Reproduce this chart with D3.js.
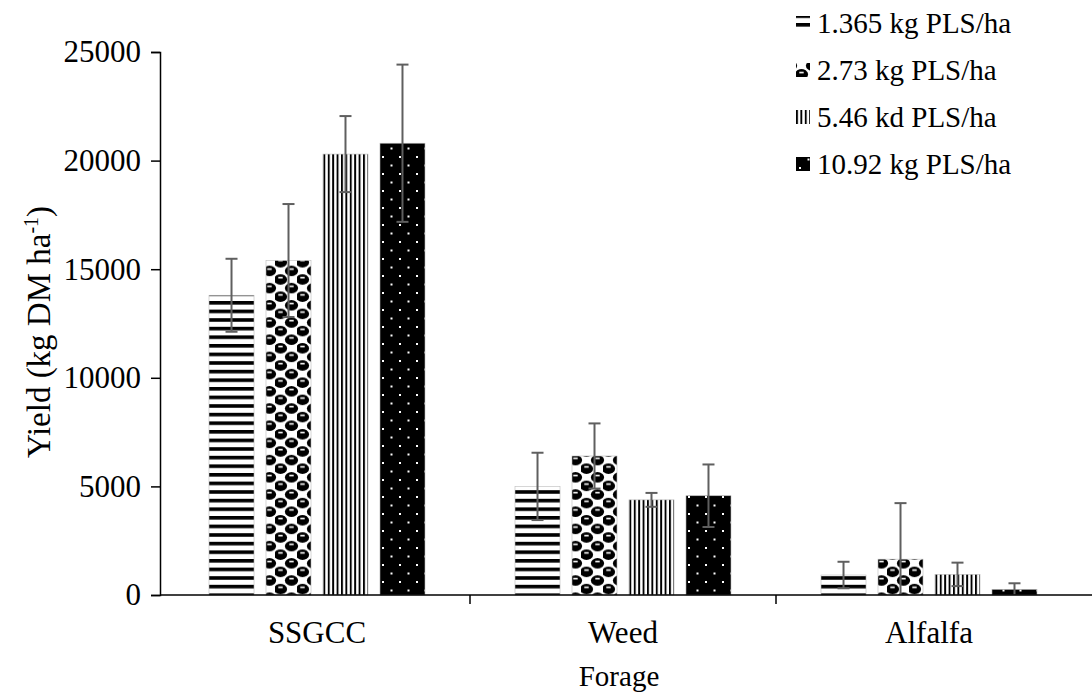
<!DOCTYPE html>
<html>
<head>
<meta charset="utf-8">
<script src="https://cdn.jsdelivr.net/npm/d3@7"></script>
<style>
body{margin:0;background:#fff;}
text{font-family:"Liberation Serif","Times New Roman",serif;fill:#000;}
</style>
</head>
<body>
<svg id="chart"></svg>
<script>
// data
var forages = ["SSGCC", "Weed", "Alfalfa"];
var rates = ["1.365 kg PLS/ha", "2.73 kg PLS/ha", "5.46 kd PLS/ha", "10.92 kg PLS/ha"];
var patternIds = ["hstripe", "sphere", "vstripe", "dots"];
var yieldSSGCC = [13800, 15400, 20300, 20800];
var yieldWeed = [5000, 6400, 4380, 4570];
var yieldAlfalfa = [920, 1650, 950, 260];
var errSSGCC = [1680, 2600, 1750, 3620];
var errWeed = [1550, 1500, 320, 1440];
var errAlfalfa = [610, 2580, 540, 280];
var yTicks = [0, 5000, 10000, 15000, 20000, 25000];

var screen = {width: 1092, height: 695};
var svg = d3.select("#chart")
    .attr("width", screen.width)
    .attr("height", screen.height);

var rows = forages.map(function(f, i)
{
    var ys = [yieldSSGCC, yieldWeed, yieldAlfalfa][i];
    var es = [errSSGCC, errWeed, errAlfalfa][i];
    return {forage: f, values: rates.map(function(r, j) {
        return {rate: r, pat: patternIds[j], value: ys[j], err: es[j]};
    })};
});

var xScale = d3.scaleBand()
    .domain(forages)
    .range([164, 1082]);
var xInner = d3.scaleBand()
    .domain(rates)
    .range([0, 216])
    .paddingInner(0.21);
var yScale = d3.scaleLinear()
    .domain([0, 25000])
    .range([595, 52]);

// fill patterns
var defs = svg.append("defs");

var p1 = defs.append("pattern").attr("id", "hstripe")
    .attr("patternUnits", "userSpaceOnUse").attr("width", 10).attr("height", 8.6);
p1.append("rect").attr("width", 10).attr("height", 8.6).attr("fill", "#fff");
p1.append("rect").attr("y", 0).attr("width", 10).attr("height", 3.6).attr("fill", "#000");

var p2 = defs.append("pattern").attr("id", "sphere")
    .attr("patternUnits", "userSpaceOnUse").attr("width", 22).attr("height", 17.2);
p2.append("rect").attr("width", 22).attr("height", 17.2).attr("fill", "#fff");
[[5.5, 4.3], [16.5, 12.9], [16.5, -4.3], [-5.5, 12.9], [27.5, 12.9], [5.5, 21.5]].forEach(function(c)
{
    p2.append("ellipse").attr("cx", c[0]).attr("cy", c[1]).attr("rx", 6.6).attr("ry", 5.2)
        .attr("fill", "#000");
});
[[5.5, 4.3], [16.5, 12.9]].forEach(function(c)
{
    p2.append("rect").attr("x", c[0] - 2.2).attr("y", c[1] - 2.6).attr("width", 4.4).attr("height", 1.6)
        .attr("fill", "#fff");
});

var p3 = defs.append("pattern").attr("id", "vstripe")
    .attr("patternUnits", "userSpaceOnUse").attr("width", 4.4).attr("height", 10);
p3.append("rect").attr("width", 4.4).attr("height", 10).attr("fill", "#fff");
p3.append("rect").attr("width", 1.9).attr("height", 10).attr("fill", "#000");

var p4 = defs.append("pattern").attr("id", "dots")
    .attr("patternUnits", "userSpaceOnUse").attr("width", 17).attr("height", 17);
p4.append("rect").attr("width", 17).attr("height", 17).attr("fill", "#000");
p4.append("rect").attr("x", 3).attr("y", 3).attr("width", 2).attr("height", 2).attr("fill", "#fff");
p4.append("rect").attr("x", 11.5).attr("y", 11.5).attr("width", 2).attr("height", 2).attr("fill", "#fff");

// bars
var groups = svg.selectAll("g.grp")
    .data(rows)
    .enter()
    .append("g")
    .attr("class", "grp")
    .attr("transform", function(d)
    {
        return "translate(" + (xScale(d.forage) + xScale.bandwidth() / 2 - 108) + ",0)";
    });

groups.selectAll("rect")
    .data(function(d) { return d.values; })
    .enter()
    .append("rect")
    .attr("x", function(d) { return xInner(d.rate); })
    .attr("y", function(d) { return yScale(d.value); })
    .attr("width", xInner.bandwidth())
    .attr("height", function(d) { return yScale(0) - yScale(d.value); })
    .attr("fill", function(d) { return "url(#" + d.pat + ")"; })
    .attr("stroke", "#bbb")
    .attr("stroke-width", 0.6);

// error bars (lower end stops at the axis)
var errs = groups.selectAll("g.err")
    .data(function(d) { return d.values; })
    .enter()
    .append("g")
    .attr("class", "err")
    .attr("stroke", "#5f5f5f")
    .attr("stroke-width", 2);
var cx = function(d) { return xInner(d.rate) + xInner.bandwidth() / 2; };
errs.append("line")
    .attr("x1", cx).attr("x2", cx)
    .attr("y1", function(d) { return yScale(d.value + d.err); })
    .attr("y2", function(d) { return yScale(Math.max(0, d.value - d.err)); });
errs.append("line")
    .attr("x1", function(d) { return cx(d) - 6; }).attr("x2", function(d) { return cx(d) + 6; })
    .attr("y1", function(d) { return yScale(d.value + d.err); })
    .attr("y2", function(d) { return yScale(d.value + d.err); });
errs.filter(function(d) { return d.value - d.err > 0; })
    .append("line")
    .attr("x1", function(d) { return cx(d) - 6; }).attr("x2", function(d) { return cx(d) + 6; })
    .attr("y1", function(d) { return yScale(d.value - d.err); })
    .attr("y2", function(d) { return yScale(d.value - d.err); });

// y axis
var yAxis = svg.append("g")
    .attr("transform", "translate(160,0)")
    .call(d3.axisLeft(yScale).tickValues(yTicks).tickSize(9).tickPadding(10).tickFormat(d3.format("d")));
yAxis.select(".domain").attr("stroke", "#000").attr("stroke-width", 1.5);
yAxis.selectAll(".tick line").attr("stroke", "#000").attr("stroke-width", 1.5);
yAxis.selectAll("text").attr("font-size", 31).attr("font-family", "Liberation Serif").attr("fill", "#000");

// x axis line and category ticks
svg.append("line")
    .attr("x1", 160).attr("x2", screen.width)
    .attr("y1", yScale(0)).attr("y2", yScale(0))
    .attr("stroke", "#000").attr("stroke-width", 1.5);
svg.selectAll("line.xtick")
    .data(forages.slice(1))
    .enter()
    .append("line")
    .attr("class", "xtick")
    .attr("x1", function(d) { return xScale(d); })
    .attr("x2", function(d) { return xScale(d); })
    .attr("y1", yScale(0)).attr("y2", yScale(0) + 9)
    .attr("stroke", "#000").attr("stroke-width", 1.5);
svg.selectAll("text.xlab")
    .data(forages)
    .enter()
    .append("text")
    .attr("class", "xlab")
    .attr("x", function(d) { return xScale(d) + xScale.bandwidth() / 2; })
    .attr("y", 643)
    .attr("text-anchor", "middle")
    .attr("font-size", 31)
    .text(function(d) { return d; });

// axis titles
svg.append("text")
    .attr("x", 619).attr("y", 686)
    .attr("text-anchor", "middle")
    .attr("font-size", 29)
    .text("Forage");
var yt = svg.append("text")
    .attr("transform", "translate(50,332) rotate(-90)")
    .attr("text-anchor", "middle")
    .attr("font-size", 33);
yt.append("tspan").text("Yield (kg DM ha");
yt.append("tspan").attr("dy", -12).attr("font-size", 20).text("-1");
yt.append("tspan").attr("dy", 12).text(")");

// legend
var legend = svg.selectAll("g.leg")
    .data(rates)
    .enter()
    .append("g")
    .attr("class", "leg")
    .attr("transform", function(d, i) { return "translate(796," + (23 + i * 47) + ")"; });
legend.append("rect")
    .attr("x", 0).attr("y", -7)
    .attr("width", 14).attr("height", 14)
    .attr("fill", function(d, i) { return "url(#" + patternIds[i] + ")"; });
legend.append("text")
    .attr("x", 21).attr("y", 10)
    .attr("font-size", 29)
    .text(function(d) { return d; });
</script>
</body>
</html>
